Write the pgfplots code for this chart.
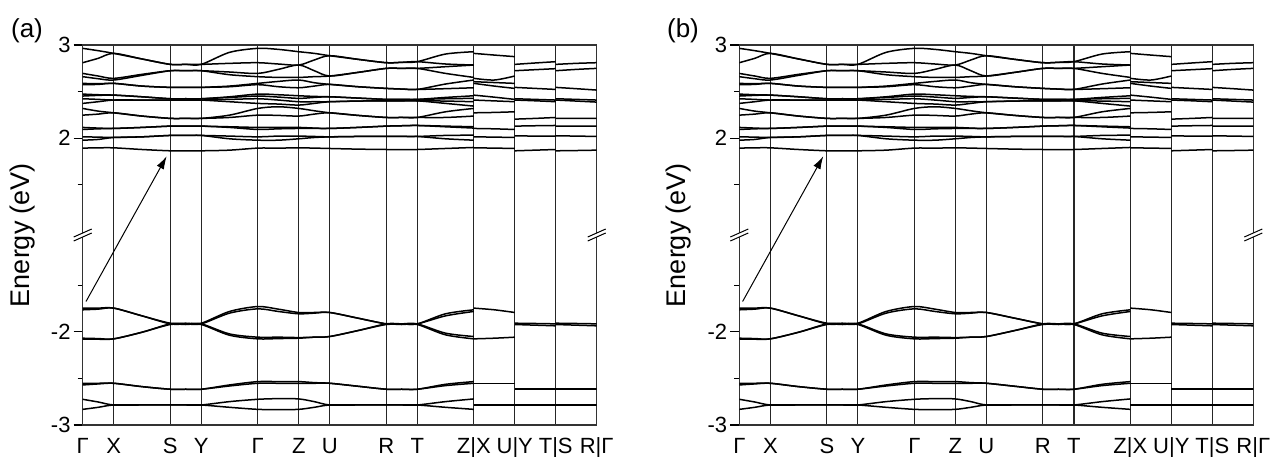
\documentclass[border=0pt]{standalone}
\usepackage{fontspec}
\setmainfont{Liberation Sans}
\usepackage{pgfplots}
\usepackage{pgfplotstable}
\pgfplotsset{compat=1.18}
\usetikzlibrary{arrows.meta}

% Conduction bands (eV) along G-X-S-Y-G-Z-U-R-T-Z
\pgfplotstableread{
k     a1    b1    a2    b2    a3    b3    a4    b4    a5    b5    a6    b6    a7    b7    a8    b8    a9
0.00  2.964 2.810 2.695 2.660 2.588 2.574 2.473 2.452 2.423 2.373 2.319 2.247 2.115 2.093 2.014 1.978 1.893
0.50  2.939 2.857 2.667 2.638 2.584 2.577 2.466 2.459 2.416 2.391 2.290 2.258 2.108 2.100 2.011 1.986 1.896
1.00  2.910 2.910 2.642 2.624 2.588 2.588 2.462 2.462 2.409 2.409 2.272 2.272 2.104 2.104 2.007 2.007 1.896
1.91  2.850 2.850 2.685 2.674 2.559 2.559 2.444 2.444 2.409 2.409 2.237 2.237 2.115 2.115 2.014 2.014 1.878
2.82  2.792 2.792 2.724 2.724 2.545 2.545 2.423 2.423 2.409 2.409 2.212 2.212 2.129 2.129 2.029 2.029 1.864
3.32  2.792 2.792 2.724 2.724 2.545 2.545 2.423 2.423 2.409 2.409 2.212 2.212 2.129 2.129 2.029 2.029 1.864
3.82  2.792 2.792 2.724 2.724 2.545 2.545 2.423 2.423 2.409 2.409 2.212 2.212 2.129 2.129 2.029 2.029 1.864
4.73  2.921 2.803 2.710 2.681 2.559 2.552 2.444 2.437 2.416 2.391 2.247 2.222 2.122 2.115 2.022 1.993 1.871
5.64  2.964 2.810 2.695 2.660 2.588 2.574 2.473 2.452 2.423 2.373 2.319 2.247 2.115 2.093 2.014 1.978 1.893
6.30  2.953 2.796 2.738 2.652 2.609 2.552 2.466 2.441 2.409 2.366 2.337 2.244 2.115 2.100 2.022 1.978 1.893
6.96  2.928 2.785 2.785 2.652 2.624 2.541 2.455 2.427 2.391 2.355 2.319 2.237 2.115 2.104 2.022 1.993 1.896
7.46  2.910 2.839 2.724 2.660 2.595 2.559 2.448 2.437 2.391 2.373 2.294 2.258 2.108 2.104 2.018 2.007 1.893
7.96  2.885 2.885 2.667 2.667 2.577 2.577 2.444 2.444 2.391 2.391 2.272 2.272 2.104 2.104 2.014 2.014 1.889
8.87  2.846 2.846 2.706 2.706 2.552 2.552 2.430 2.430 2.398 2.398 2.244 2.244 2.115 2.115 2.018 2.018 1.882
9.78  2.810 2.810 2.749 2.749 2.534 2.534 2.416 2.416 2.401 2.401 2.222 2.222 2.129 2.129 2.018 2.018 1.878
10.28 2.814 2.814 2.749 2.749 2.527 2.527 2.416 2.416 2.401 2.401 2.222 2.222 2.133 2.133 2.018 2.018 1.878
10.78 2.821 2.821 2.749 2.749 2.523 2.523 2.416 2.416 2.401 2.401 2.222 2.222 2.136 2.136 2.018 2.018 1.878
11.69 2.903 2.796 2.767 2.695 2.581 2.531 2.437 2.423 2.398 2.373 2.283 2.222 2.129 2.122 2.029 1.993 1.889
12.60 2.928 2.785 2.785 2.652 2.624 2.541 2.455 2.427 2.391 2.344 2.319 2.237 2.122 2.108 2.032 1.978 1.900
}\cbmain

% Conduction bands on the short segments X-U, Y-T, S-R
\pgfplotstableread{
k     c1    c2    c3    c4    c5    c6    c7    c8    c9    c10
12.60 2.910 2.642 2.606 2.588 2.462 2.409 2.272 2.104 2.014 1.896
13.26 2.892 2.624 2.597 2.559 2.440 2.400 2.276 2.100 2.011 1.893
13.92 2.875 2.667 2.588 2.534 2.416 2.391 2.283 2.093 2.007 1.889
nan   nan   nan   nan   nan   nan   nan   nan   nan   nan   nan
13.92 2.792 2.724 2.545 2.423 2.409 2.204 2.129 2.025 1.864 nan
14.58 2.807 2.735 2.534 2.416 2.401 2.212 2.133 2.022 1.871 nan
15.24 2.821 2.746 2.523 2.409 2.391 2.222 2.136 2.022 1.878 nan
nan   nan   nan   nan   nan   nan   nan   nan   nan   nan   nan
15.24 2.792 2.724 2.545 2.423 2.409 2.212 2.129 2.025 1.864 nan
15.90 2.803 2.738 2.531 2.416 2.398 2.212 2.129 2.022 1.867 nan
16.56 2.810 2.749 2.516 2.409 2.387 2.212 2.129 2.018 1.871 nan
}\cbseg

% Valence bands (eV) along G-X-S-Y-G-Z-U-R-T-Z
\pgfplotstableread{
k     v1    w1     v2     w2     v3     w3     v4     w4
0.00  -1.745 -1.763 -2.068 -2.079 -2.552 -2.570 -2.724 -2.832
0.50  -1.745 -1.756 -2.072 -2.079 -2.552 -2.559 -2.753 -2.810
1.00  -1.745 -1.745 -2.075 -2.075 -2.552 -2.552 -2.785 -2.785
1.91  -1.828 -1.828 -2.004 -2.004 -2.588 -2.588 -2.785 -2.785
2.82  -1.907 -1.914 -1.914 -1.921 -2.616 -2.616 -2.785 -2.785
3.32  -1.907 -1.914 -1.914 -1.921 -2.616 -2.616 -2.785 -2.785
3.82  -1.907 -1.914 -1.914 -1.921 -2.616 -2.616 -2.785 -2.785
4.73  -1.781 -1.799 -2.022 -2.036 -2.570 -2.581 -2.749 -2.810
5.64  -1.728 -1.753 -2.057 -2.075 -2.534 -2.552 -2.724 -2.832
6.30  -1.756 -1.781 -2.057 -2.072 -2.534 -2.552 -2.717 -2.835
6.96  -1.792 -1.806 -2.061 -2.068 -2.534 -2.552 -2.720 -2.832
7.46  -1.792 -1.799 -2.057 -2.057 -2.545 -2.552 -2.749 -2.810
7.96  -1.792 -1.792 -2.050 -2.050 -2.552 -2.552 -2.785 -2.785
8.87  -1.853 -1.853 -1.986 -1.986 -2.584 -2.584 -2.785 -2.785
9.78  -1.914 -1.914 -1.914 -1.921 -2.616 -2.616 -2.785 -2.785
10.28 -1.914 -1.914 -1.914 -1.921 -2.616 -2.616 -2.785 -2.785
10.78 -1.914 -1.914 -1.914 -1.921 -2.616 -2.616 -2.785 -2.785
11.69 -1.806 -1.828 -2.014 -2.032 -2.563 -2.577 -2.749 -2.810
12.60 -1.763 -1.781 -2.050 -2.075 -2.534 -2.552 -2.720 -2.832
}\vbmain

% Valence bands on the short segments X-U, Y-T, S-R
\pgfplotstableread{
k     d1     d2     d3     d4
12.60 -1.745 -2.075 -2.552 -2.785
13.26 -1.763 -2.068 -2.552 -2.785
13.92 -1.792 -2.057 -2.552 -2.785
nan   nan    nan    nan    nan
13.92 -1.907 -1.921 -2.616 -2.785
14.58 -1.910 -1.928 -2.616 -2.785
15.24 -1.914 -1.935 -2.616 -2.785
nan   nan    nan    nan    nan
15.24 -1.907 -1.921 -2.616 -2.785
15.90 -1.910 -1.928 -2.616 -2.785
16.56 -1.914 -1.935 -2.616 -2.785
}\vbseg

% the energy axis is broken between -1 and 1 eV: upper part shifted by -0.96, lower by +0.96
\pgfplotsset{
  bandaxis/.style={
    scale only axis, width=514pt, height=380pt,
    xmin=0, xmax=16.56, ymin=-2.04, ymax=2.04,
    axis line style={line width=1.4pt, black!80},
    xtick={0,1,2.82,3.82,5.64,6.96,7.96,9.78,10.78,12.60,13.92,15.24,16.56},
    xticklabels={Γ,X,S,Y,Γ,Z,U,R,T,Z|X,U|Y,T|S,R|Γ},
    xmajorgrids, major grid style={line width=1.2pt, black!85},
    xtick style={draw=none},
    ytick={-2.04,-1.04,1.04,2.04}, yticklabels={-3,-2,2,3},
    minor ytick={-1.54,-0.54,0.54,1.54},
    ytick pos=left, tick align=outside,
    major tick length=9pt, minor tick length=5pt,
    ytick style={line width=1.1pt, black},
    tick label style={font=\fontsize{22}{26}\selectfont},
    yticklabel style={anchor=east, inner sep=0pt, xshift=-3pt},
    xticklabel style={anchor=north, inner sep=0pt, text height=16pt, text depth=3pt, yshift=-3.5pt},
    ylabel={Energy (eV)},
    ylabel style={font=\fontsize{27}{32}\selectfont, at={(axis description cs:-0.118,0.5)}, anchor=center},
    unbounded coords=jump,
  },
  band/.style={black, line width=1.5pt, smooth, mark=none},
}

\newcommand\axisbreak[1]{%
  \fill[white] ([shift={(-9pt,-6pt)}]#1) -- ([shift={(9pt,2pt)}]#1) -- ([shift={(9pt,6pt)}]#1) -- ([shift={(-9pt,-2pt)}]#1) -- cycle;
  \draw[line width=1pt] ([shift={(-9pt,-6pt)}]#1) -- ([shift={(9pt,2pt)}]#1)
                        ([shift={(-9pt,-2pt)}]#1) -- ([shift={(9pt,6pt)}]#1);}

\newcommand\bandpanel[3]{%
  \begin{axis}[bandaxis, at={(#1,31pt)}, anchor=south west]
    \pgfplotsinvokeforeach{a1,b1,a2,b2,a3,b3,a4,b4,a5,b5,a6,b6,a7,b7,a8,b8,a9}{
      \addplot[band] table[x=k, y expr=\thisrow{##1}-0.96] {\cbmain};}
    \pgfplotsinvokeforeach{c1,c2,c3,c4,c5,c6,c7,c8,c9,c10}{
      \addplot[band] table[x=k, y expr=\thisrow{##1}-0.96] {\cbseg};}
    \pgfplotsinvokeforeach{v1,w1,v2,w2,v3,w3,v4,w4}{
      \addplot[band] table[x=k, y expr=\thisrow{##1}+0.96] {\vbmain};}
    \pgfplotsinvokeforeach{d1,d2,d3,d4}{
      \addplot[band] table[x=k, y expr=\thisrow{##1}+0.96] {\vbseg};}
    % indirect gap: VBM near Gamma to CBM at S
    \draw[line width=1pt, -{Latex[length=13pt,width=8pt]}] (axis cs:0.106,-0.714) -- (axis cs:2.706,0.846);
    \coordinate (brkL) at (axis cs:0,0);
    \coordinate (brkR) at (axis cs:16.56,0);
  \end{axis}
  \axisbreak{brkL}\axisbreak{brkR}
  \node[font=\fontsize{26}{30}\selectfont] at (#2,425pt) {#3};
}

\begin{document}
\begin{tikzpicture}
  \bandpanel{82.7pt}{27pt}{(a)}
  \bandpanel{739.3pt}{683pt}{(b)}
  \pgfresetboundingbox
  \path (0,0) rectangle (1271pt,456pt);
\end{tikzpicture}
\end{document}
